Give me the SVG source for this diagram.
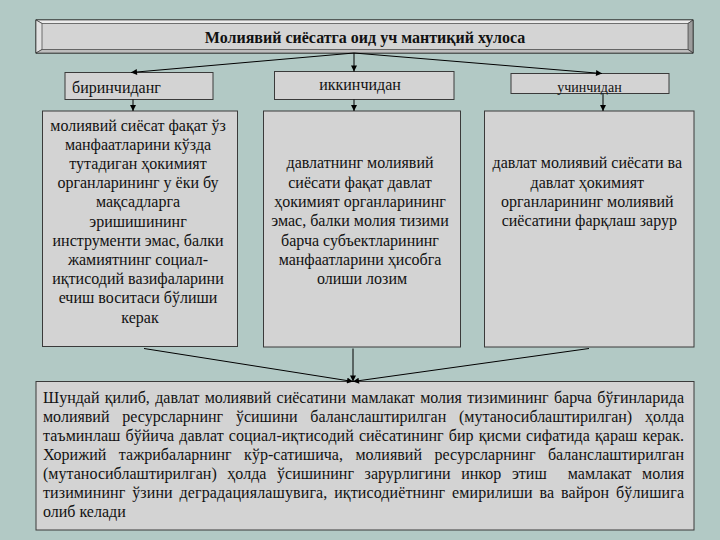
<svg xmlns="http://www.w3.org/2000/svg" width="720" height="540" viewBox="0 0 720 540">
<defs>
<marker id="ah" viewBox="0 0 10 10" refX="10" refY="5" markerWidth="7" markerHeight="6" markerUnits="userSpaceOnUse" orient="auto"><path d="M0,0 L10,5 L0,10 z" fill="#000"/></marker>
<style>
.bx{fill:#d3d3d3;stroke:#3a3a3a;stroke-width:1}
.t{font-family:"Liberation Serif","Times New Roman",serif;font-size:16px;fill:#111}
.c{text-anchor:middle}
.cn{stroke:#000;stroke-width:1;fill:none;marker-end:url(#ah)}
.pl{stroke:#000;stroke-width:1;fill:none}
</style>
</defs>
<rect width="720" height="540" fill="#b2c9c5"/>

<g id="title">
<rect x="36" y="20" width="657" height="33" fill="#d4d4d4" stroke="#222"/>
<polygon points="36,20 693,20 688,23.5 42,23.5" fill="#ececec" stroke="#222" stroke-width="0.6"/>
<polygon points="36,20 42,23.5 42,49.5 36,53" fill="#e2e2e2" stroke="#222" stroke-width="0.6"/>
<polygon points="693,20 693,53 688,49.5 688,23.5" fill="#9c9c9c" stroke="#222" stroke-width="0.6"/>
<polygon points="36,53 42,49.5 688,49.5 693,53" fill="#bdbdbd" stroke="#222" stroke-width="0.6"/>
<text class="t c" x="365" y="42.5" font-weight="bold">Молиявий сиёсатга оид уч мантиқий хулоса</text>
</g>

<g id="first">
<rect class="bx" x="65" y="72.5" width="148" height="27"/>
<text class="t" x="72" y="93.3">биринчиданг</text>
</g>
<g id="second">
<rect class="bx" x="274.5" y="71.5" width="179.5" height="28"/>
<text class="t c" x="360" y="90">иккинчидан</text>
</g>
<g id="third">
<rect class="bx" x="511" y="73.5" width="158" height="20"/>
<text class="t c" x="589.5" y="91.5" style="font-size:14px">учинчидан</text>
</g>

<g id="box1">
<rect class="bx" x="42.5" y="111" width="195" height="235.5"/>
<text class="t c">
<tspan x="140" y="130.5">молиявий сиёсат фақат ўз</tspan>
<tspan x="140" y="149.7">манфаатларини кўзда</tspan>
<tspan x="140" y="168.9">тутадиган ҳокимият</tspan>
<tspan x="140" y="188.1">органларининг у ёки бу</tspan>
<tspan x="140" y="207.3">мақсадларга</tspan>
<tspan x="140" y="226.5">эришишининг</tspan>
<tspan x="140" y="245.7">инструменти эмас, балки</tspan>
<tspan x="140" y="264.9">жамиятнинг социал-</tspan>
<tspan x="140" y="284.1">иқтисодий вазифаларини</tspan>
<tspan x="140" y="303.3">ечиш воситаси бўлиши</tspan>
<tspan x="140" y="322.5">керак</tspan>
</text>
</g>

<g id="box2">
<rect class="bx" x="263.5" y="111" width="197" height="236"/>
<text class="t c">
<tspan x="362" y="168.3">давлатнинг молиявий</tspan>
<tspan x="362" y="187.6">сиёсати фақат давлат</tspan>
<tspan x="362" y="206.9">ҳокимият органларининг</tspan>
<tspan x="362" y="226.2">эмас, балки молия тизими</tspan>
<tspan x="362" y="245.5">барча субъектларининг</tspan>
<tspan x="362" y="264.8">манфаатларини ҳисобга</tspan>
<tspan x="362" y="284.1">олиши лозим</tspan>
</text>
</g>

<g id="box3">
<rect class="bx" x="484.5" y="111" width="209.5" height="236"/>
<text class="t c">
<tspan x="589.3" y="168.3">давлат молиявий сиёсати ва</tspan>
<tspan x="589.3" y="187.6">давлат ҳокимият</tspan>
<tspan x="589.3" y="206.9">органларининг молиявий</tspan>
<tspan x="589.3" y="226.2">сиёсатини фарқлаш зарур</tspan>
</text>
</g>

<g id="conclusion">
<rect class="bx" x="36" y="381.5" width="658" height="148.5"/>
<text class="t" x="43" y="403.3" textLength="641" lengthAdjust="spacing" style="word-spacing:1.3px">Шундай қилиб, давлат молиявий сиёсатини мамлакат молия тизимининг барча бўғинларида</text>
<text class="t" x="43" y="422.2" textLength="641" lengthAdjust="spacing" style="word-spacing:8.8px">молиявий ресурсларнинг ўсишини баланслаштирилган (мутаносиблаштирилган) ҳолда</text>
<text class="t" x="43" y="441.1" textLength="641" lengthAdjust="spacing" style="word-spacing:1.1px">таъминлаш бўйича давлат социал-иқтисодий сиёсатининг бир қисми сифатида қараш керак.</text>
<text class="t" x="43" y="460" textLength="641" lengthAdjust="spacing" style="word-spacing:8.5px">Хорижий тажрибаларнинг кўр-сатишича, молиявий ресурсларнинг баланслаштирилган</text>
<text class="t" x="43" y="478.9" textLength="641" lengthAdjust="spacing" style="word-spacing:6.5px;white-space:pre">(мутаносиблаштирилган) ҳолда ўсишининг зарурлигини инкор этиш  мамлакат молия</text>
<text class="t" x="43" y="497.8" textLength="641" lengthAdjust="spacing" style="word-spacing:2.7px">тизимининг ўзини деградациялашувига, иқтисодиётнинг емирилиши ва вайрон бўлишига</text>
<text class="t" x="43" y="516.7">олиб келади</text>
</g>

<g id="connectors">
<line class="cn" x1="354" y1="53" x2="131" y2="72.5"/>
<line class="cn" x1="354" y1="53" x2="354" y2="71.5"/>
<line class="cn" x1="354" y1="53" x2="602" y2="73.5"/>
<line class="cn" x1="133" y1="99.5" x2="133" y2="111"/>
<line class="cn" x1="354" y1="99.5" x2="354" y2="111"/>
<line class="cn" x1="603" y1="93.5" x2="603" y2="111"/>
<line class="cn" x1="144" y1="348.5" x2="353" y2="381.5"/>
<line class="cn" x1="353" y1="348.5" x2="353" y2="381.5"/>
<line class="cn" x1="589" y1="348.5" x2="353" y2="381.5"/>
</g>
</svg>
